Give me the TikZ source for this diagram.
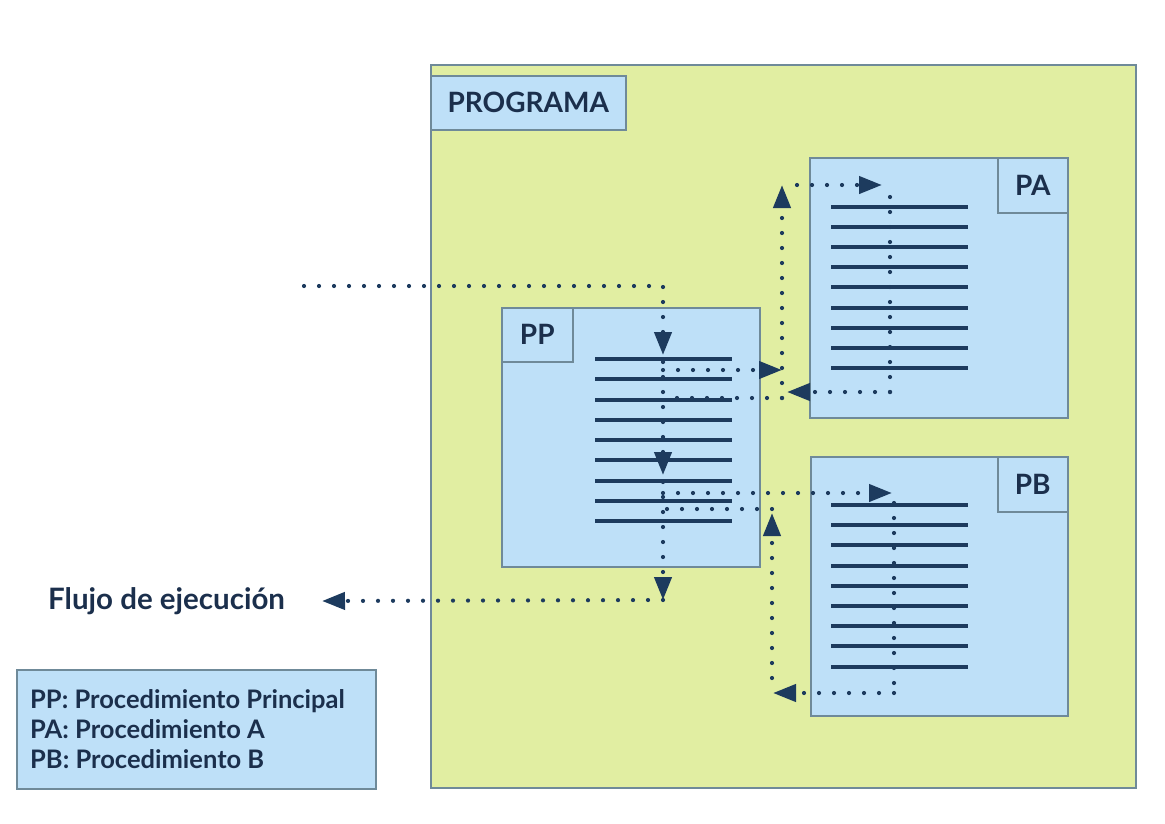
\documentclass[tikz,border=0pt]{standalone}
\usepackage{fontspec}
\setmainfont{Lato}
\usetikzlibrary{arrows.meta}
\definecolor{verde}{HTML}{E1EEA2}
\definecolor{azul}{HTML}{BEE0F8}
\definecolor{borde}{HTML}{6F8A99}
\definecolor{marino}{HTML}{1D3B5E}
\definecolor{letra}{HTML}{1B2F4C}
\begin{document}
\begin{tikzpicture}[x=1pt, y=-1pt,
	caja/.style={draw=borde, line width=1.5pt, fill=azul, anchor=north west, inner sep=0pt},
	etiqueta/.style={caja, text=letra, font=\fontsize{28}{32}\selectfont\bfseries},
	linea/.style={marino, line width=4pt},
	flujo/.style={marino, line width=4.2pt, line cap=round, dash pattern=on 0pt off 15pt},
	flecha/.style={flujo, -{Triangle[length=23pt, width=17pt]}}]

		\useasboundingbox (0,0) rectangle (1165,823);

		% programa
		\node[caja, fill=verde, minimum width=705pt, minimum height=723pt] (programa) at (430,64) {};
		\node[etiqueta, minimum width=195pt, minimum height=54pt] (lprograma) at (430,75) {PROGRAMA};

		% procedimientos
		\node[caja, minimum width=258pt, minimum height=259pt] (pp) at (501,307) {};
		\node[etiqueta, minimum width=71pt, minimum height=54pt] (lpp) at (pp.north west) {PP};
		\node[caja, minimum width=258pt, minimum height=260pt] (pa) at (809,157) {};
		\node[etiqueta, anchor=north east, minimum width=70pt, minimum height=55pt] (lpa) at (pa.north east) {PA};
		\node[caja, minimum width=257pt, minimum height=259pt] (pb) at (810,456) {};
		\node[etiqueta, anchor=north east, minimum width=70pt, minimum height=55pt] (lpb) at (pb.north east) {PB};

		% instrucciones
		\foreach \i in {0,...,8}
		\draw[linea] (595,359+20.25*\i) -- (732,359+20.25*\i);
		\foreach \i in {0,...,8}
		\draw[linea] (831,207+20.1*\i) -- (968,207+20.1*\i);
		\foreach \i in {0,...,8}
		\draw[linea] (831,505+20.2*\i) -- (968,505+20.2*\i);

		% leyenda
		\node[caja, minimum width=359pt, minimum height=119pt] (leyenda) at (16,669) {};
		\node[anchor=west, text=letra, font=\fontsize{25.5}{30}\selectfont\bfseries, align=left, inner sep=0pt] (tleyenda) at ([xshift=14pt]leyenda.west)
		{PP: Procedimiento Principal\\PA: Procedimiento A\\PB: Procedimiento B};
		\node[anchor=west, text=letra, font=\fontsize{29.5}{32}\selectfont\bfseries, inner sep=0pt] (tflujo) at (48,601) {Flujo de ejecución};

		% puntos del flujo
		\coordinate (inicio) at (304,286);
		\coordinate (pp1) at (663,355);
		\coordinate (pp2) at (663,362);
		\coordinate (pp3) at (663,475);
		\coordinate (pp4) at (663,482);
		\coordinate (pp5) at (663,600);
		\coordinate (salida) at (322,601);
		\coordinate (llamaA) at (663,370);
		\coordinate (llegaA) at (782,370);
		\coordinate (subeA0) at (782,398);
		\coordinate (subeA1) at (782,185);
		\coordinate (entraA0) at (797,185);
		\coordinate (entraA1) at (882,185);
		\coordinate (finA0) at (890,197);
		\coordinate (finA1) at (890,392);
		\coordinate (vuelveA) at (787,392);
		\coordinate (regresaA) at (663,398);
		\coordinate (llamaB) at (663,493);
		\coordinate (entraB) at (892,493);
		\coordinate (finB0) at (894,503);
		\coordinate (finB1) at (894,693);
		\coordinate (vuelveB) at (773,693);
		\coordinate (subeB0) at (772,678);
		\coordinate (subeB1) at (772,513);
		\coordinate (bajaB) at (772,509);
		\coordinate (regresaB) at (663,509);

		% flujo de ejecucion
		\draw[flecha] (inicio) -| (pp1);
		\draw[flecha] (pp2) -- (pp3);
		\draw[flecha] (pp4) -- (pp5);
		\draw[flecha] (pp5) -- (salida);
		\draw[flecha] (llamaA) -- (llegaA);
		\draw[flecha] (subeA0) -- (subeA1);
		\draw[flecha] (entraA0) -- (entraA1);
		\draw[flujo] (finA0) -- (finA1);
		\draw[flecha] (finA1) -- (vuelveA);
		\draw[flujo] (subeA0) -- (regresaA);
		\draw[flecha] (llamaB) -- (entraB);
		\draw[flujo] (finB0) -- (finB1);
		\draw[flecha] (finB1) -- (vuelveB);
		\draw[flecha] (subeB0) -- (subeB1);
		\draw[flujo] (bajaB) -- (regresaB);
	\end{tikzpicture}
\end{document}
